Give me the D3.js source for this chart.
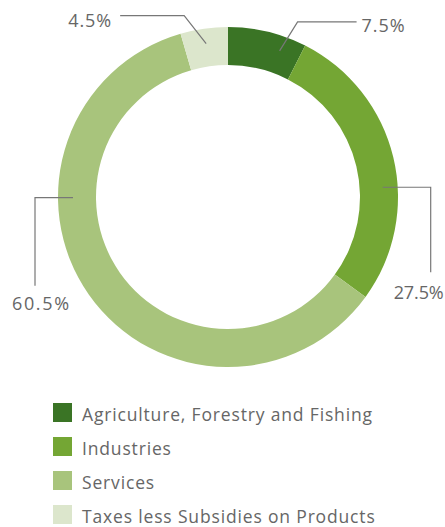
<!DOCTYPE html>
<html>
<head>
<meta charset="utf-8">
<script src="https://cdn.jsdelivr.net/npm/d3@7"></script>
<style>
  html, body { margin: 0; padding: 0; background: #fff; }
  svg text { font-family: "Open Sans", "Noto Sans", sans-serif; fill: #666; }
</style>
</head>
<body>
<svg id="chart" width="445" height="527"></svg>
<script>
// GDP composition by sector
const categories = [
  "Agriculture, Forestry and Fishing",
  "Industries",
  "Services",
  "Taxes less Subsidies on Products"
];
const shares = [7.5, 27.5, 60.5, 4.5];
const valueLabels = ["7.5%", "27.5%", "60.5%", "4.5%"];
const colors = ["#3a7425", "#74a634", "#a8c47c", "#dce6cc"];

const svg = d3.select("#chart");
const cx = 228, cy = 197;
const outerR = 170, innerR = 132;

const pie = d3.pie().sort(null).value(d => d)(shares);
const arc = d3.arc().innerRadius(innerR).outerRadius(outerR);

const g = svg.append("g").attr("transform", `translate(${cx},${cy})`);

g.selectAll("path.slice")
  .data(pie)
  .join("path")
  .attr("class", "slice")
  .attr("d", arc)
  .attr("fill", (d, i) => colors[i]);

// Leader lines: anchor inside the ring, elbow, then the label
const anchorFrac = [0.72, 0.6, 0.66, 0.5];
const anchorR = 155;
function pointAt(angle, r) {
  return [Math.sin(angle) * r, -Math.cos(angle) * r];
}
const leaders = pie.map((d, i) => {
  const a = d.startAngle + (d.endAngle - d.startAngle) * anchorFrac[i];
  return pointAt(a, anchorR);
});

// elbow layout per label, relative to anchor
const path = [
  (p) => [[p[0], p[1]], [p[0] + 18, p[1] - 29], [p[0] + 77, p[1] - 29]],
  (p) => [[p[0], p[1]], [p[0] + 48, p[1]], [p[0] + 48, p[1] + 85]],
  (p) => [[p[0], p[1]], [p[0] - 38, p[1]], [p[0] - 38, p[1] + 88]],
  (p) => [[p[0], p[1]], [p[0] - 22, p[1] - 28], [p[0] - 86, p[1] - 28]]
];
const line = d3.line();
g.selectAll("path.leader")
  .data(leaders)
  .join("path")
  .attr("class", "leader")
  .attr("d", (p, i) => line(path[i](p)))
  .attr("fill", "none")
  .attr("stroke", "#777")
  .attr("stroke-width", 1.2);

// label placement relative to end of leader: start x / baseline, and spanned width
const labelPos = [
  (e) => ({ x: e[0] + 5, y: e[1] + 10, w: 43 }),
  (e) => ({ x: e[0] - 37, y: e[1] + 27, w: 50 }),
  (e) => ({ x: e[0] - 23, y: e[1] + 24, w: 57 }),
  (e) => ({ x: e[0] - 52, y: e[1] + 11, w: 43 })
];
g.selectAll("text.val")
  .data(leaders)
  .join("text")
  .attr("class", "val")
  .attr("font-size", 18)
  .attr("lengthAdjust", "spacing")
  .each(function (p, i) {
    const pts = path[i](p);
    const pos = labelPos[i](pts[pts.length - 1]);
    d3.select(this)
      .attr("x", pos.x)
      .attr("y", pos.y)
      .attr("textLength", pos.w);
  })
  .text((d, i) => valueLabels[i]);

// Legend
const legendY = d3.scaleBand().domain(categories).range([403, 539]).paddingInner(0);
const legend = svg.append("g");
const rows = legend.selectAll("g.row")
  .data(categories)
  .join("g")
  .attr("class", "row")
  .attr("transform", d => `translate(53,${legendY(d)})`);
rows.append("rect")
  .attr("width", 19)
  .attr("height", 19)
  .attr("fill", (d, i) => colors[i]);
const legendText = rows.append("text")
  .attr("x", 29)
  .attr("y", 18)
  .attr("font-size", 17.5)
  .text(d => d);
// widest entry spans ~291px; apply the same spacing to all entries
const first = legendText.nodes()[0];
const ls = (290 - first.getComputedTextLength()) / (first.textContent.length - 1);
legendText.attr("letter-spacing", ls);
</script>
</body>
</html>
